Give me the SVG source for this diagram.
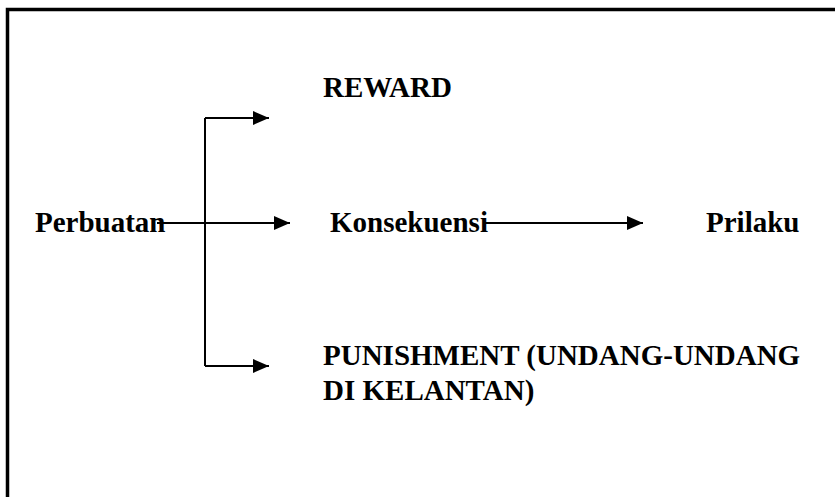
<svg xmlns="http://www.w3.org/2000/svg" width="835" height="497" viewBox="0 0 835 497">
<style>
.t{font-family:"Liberation Serif","Times New Roman",serif;font-weight:bold;font-size:29px;fill:#000}
.c{stroke:#000;stroke-width:2;fill:none}
</style>
<defs>
<marker id="ah" markerUnits="userSpaceOnUse" markerWidth="16" markerHeight="14" refX="16" refY="7" orient="auto">
<path d="M0,0 L16,7 L0,14 Z" fill="#000"/>
</marker>
</defs>
<rect x="0" y="0" width="835" height="497" fill="#fff"/>
<rect x="7.5" y="9.5" width="860" height="520" fill="none" stroke="#000" stroke-width="3.5"/>
<g id="connectors">
<path class="c" d="M205,366 L205,118"/>
<path class="c" d="M205,118 L269,118" marker-end="url(#ah)"/>
<path class="c" d="M157,223 L290,223" marker-end="url(#ah)"/>
<path class="c" d="M205,366 L269,366" marker-end="url(#ah)"/>
<path class="c" d="M485,223 L643,223" marker-end="url(#ah)"/>
</g>
<g id="reward"><text class="t" x="323" y="97">REWARD</text></g>
<g id="perbuatan"><text class="t" x="35" y="232">Perbuatan</text></g>
<g id="konsekuensi"><text class="t" x="330" y="232">Konsekuensi</text></g>
<g id="prilaku"><text class="t" x="706" y="232">Prilaku</text></g>
<g id="punishment"><text class="t" x="323" y="365">PUNISHMENT (UNDANG-UNDANG</text><text class="t" x="323" y="400">DI KELANTAN)</text></g>
</svg>
